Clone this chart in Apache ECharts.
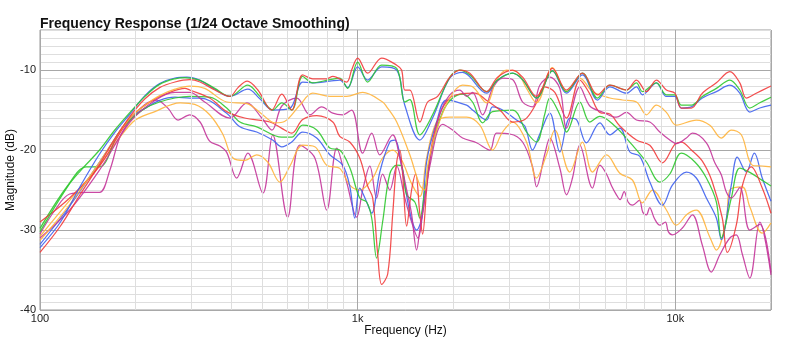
<!DOCTYPE html>
<html>
<head>
<meta charset="utf-8">
<script src="https://cdn.jsdelivr.net/npm/echarts@6/dist/echarts.min.js"></script>
<style>
  html, body { margin: 0; padding: 0; background: #ffffff; }
  #chart { width: 800px; height: 344px; }
</style>
</head>
<body>
<div id="chart"></div>
<script>
// Chart text
const chartTitle = 'Frequency Response (1/24 Octave Smoothing)';
const xAxisName = 'Frequency (Hz)';
const yAxisName = 'Magnitude (dB)';
const xTickLabels = { 100: '100', 1000: '1k', 10000: '10k' };
const yMajorStep = 10;

// Measured responses: [frequency Hz, magnitude dB]
const red1 = [[100,-32.8],[116,-29.5],[134,-25.5],[154,-21.8],[172,-18.6],[192,-15.8],[214,-13.6],[238,-12.2],[266,-11.5],[296,-11.2],[319,-11.5],[355,-12.5],[396,-13.3],[420,-12.2],[449,-11.4],[485,-12.5],[536,-15],[577,-13],[620,-15],[671,-10.6],[722,-11.1],[799,-11.1],[835,-10.8],[923,-11.5],[957,-10],[1000,-8.5],[1075,-10.4],[1190,-8.5],[1327,-9.4],[1375,-10],[1407,-12.5],[1459,-12.5],[1569,-16.5],[1660,-14],[1785,-13.3],[1950,-10.9],[2097,-10],[2254,-10.4],[2545,-12.7],[2756,-10.9],[3073,-10],[3304,-10.9],[3655,-13.3],[4104,-9.8],[4542,-12.5],[5100,-10.4],[5686,-13.1],[6219,-11.9],[7015,-12.5],[7542,-11.25],[8108,-12.7],[8716,-11.25],[9370,-12.5],[9961,-12.9],[10440,-14.75],[11230,-14.75],[12160,-12.9],[13460,-11.6],[14840,-10.2],[15950,-11.6],[16720,-13.5],[17970,-12.9],[20000,-12]];

const green1 = [[100,-30.2],[122,-24.6],[134,-22.6],[154,-20],[172,-17.5],[192,-15.3],[214,-13.3],[238,-11.8],[266,-11.1],[286,-10.95],[319,-11.3],[355,-12.3],[396,-13.3],[451,-11.9],[492,-13.3],[540,-15],[577,-14.1],[620,-15],[671,-10.8],[722,-11.6],[817,-11.2],[878,-11],[930,-12.3],[1000,-9],[1075,-11.5],[1190,-9.4],[1327,-9.8],[1407,-14],[1459,-13.7],[1569,-18.1],[1721,-15.6],[1950,-10.9],[2097,-10],[2254,-10.6],[2545,-12.7],[2756,-11.25],[3073,-10.4],[3304,-11.2],[3655,-13.5],[4104,-10.1],[4542,-12.7],[5100,-10.4],[5686,-13.5],[6219,-11.9],[7015,-12.5],[7542,-11.6],[7876,-12.7],[8716,-11.6],[9370,-13.1],[9961,-13.1],[10440,-14.4],[11230,-14.4],[12160,-13.3],[13460,-12.3],[14840,-11.25],[15950,-12.5],[17150,-14.75],[18440,-14.1],[20000,-13.4]];

const blue1 = [[100,-32.2],[116,-29],[134,-24.5],[154,-20.5],[172,-17.8],[192,-15.5],[214,-13.2],[238,-11.7],[266,-11],[290,-10.9],[319,-11.3],[355,-12.4],[396,-13.3],[451,-12.4],[492,-13.6],[540,-15],[611,-14.8],[671,-11.5],[722,-11.6],[817,-11.4],[878,-11.25],[930,-12.2],[1000,-9.6],[1075,-11.25],[1190,-9.6],[1327,-10],[1407,-14.4],[1569,-18.75],[1721,-16],[1950,-11],[2139,-10.3],[2545,-12.9],[2756,-11.25],[3073,-10.4],[3304,-11.2],[3655,-13.5],[4104,-10.1],[4542,-12.9],[5100,-10.6],[5686,-13.75],[6219,-12.1],[7015,-12.9],[7542,-12.1],[7876,-13.1],[8716,-11.6],[9370,-13.3],[9961,-13.3],[10440,-14.75],[11230,-14.6],[12160,-13.5],[13460,-12.7],[14840,-11.9],[15950,-12.9],[17150,-15.25],[18440,-14.75],[20000,-14.4]];

const orange1 = [[100,-31.3],[116,-28.3],[134,-25],[154,-21.5],[172,-18.6],[192,-16],[214,-14.4],[238,-13.2],[266,-12.4],[296,-12],[330,-12.3],[387,-14],[448,-14.2],[499,-15.5],[549,-16.6],[590,-16.4],[657,-14.4],[722,-12.9],[817,-13.3],[923,-13.3],[1037,-12.8],[1198,-14],[1234,-14.6],[1327,-16.5],[1459,-20.6],[1569,-24.4],[1627,-25],[1660,-22],[1772,-17.5],[1950,-13.5],[2139,-11.9],[2299,-12.1],[2545,-14.1],[2736,-11.25],[2942,-10],[3162,-10.2],[3400,-12.3],[3655,-14.1],[4104,-9.7],[4542,-12.7],[5003,-11],[5483,-12.7],[6219,-13.5],[6814,-13.75],[7542,-14],[8108,-15.6],[8716,-14.4],[9370,-15.3],[10070,-16.9],[11640,-16.25],[12840,-16.9],[13950,-18.5],[15000,-17.5],[16130,-18.1],[17470,-21.9],[18770,-22],[20000,-22.1]];

const magenta1 = [[100,-31],[124,-27.5],[154,-22.5],[192,-16.5],[230,-13.8],[266,-12.8],[296,-12.8],[330,-14],[396,-16],[448,-14.1],[499,-16],[537,-17.5],[577,-14.5],[643,-13.5],[707,-15.6],[770,-14.6],[835,-15.4],[897,-15.6],[957,-15],[1037,-20.4],[1107,-17.9],[1174,-20.6],[1289,-18.1],[1357,-21],[1426,-25],[1478,-28],[1533,-32.5],[1569,-30],[1627,-26],[1709,-20],[1814,-15.5],[1950,-13.1],[2097,-12.5],[2202,-13.3],[2299,-12.8],[2473,-15.6],[2658,-12.3],[2858,-11],[3073,-11.2],[3304,-14],[3551,-14.6],[3744,-11.9],[4025,-10.9],[4328,-12.3],[4542,-17.25],[5003,-12.1],[5379,-14.5],[5895,-15.25],[6524,-15.9],[7015,-15.3],[7542,-16.25],[8310,-16.5],[8935,-17.75],[9606,-18.75],[10070,-19.2],[10830,-18.5],[11310,-17.9],[12520,-19.1],[13310,-21.6],[13950,-23.1],[14470,-25.25],[15000,-26],[15950,-24.7],[17150,-30],[18440,-29.3],[20000,-35.3]];

const red2 = [[100,-29],[124,-26],[154,-22],[192,-16],[222,-14],[256,-12.8],[286,-12.3],[296,-12.5],[342,-13.5],[387,-15.2],[441,-16],[529,-16.5],[577,-17.3],[620,-17.9],[671,-16.2],[743,-15.7],[835,-16.5],[878,-18.3],[944,-19],[1015,-21],[1075,-24.5],[1115,-26],[1156,-33],[1190,-36.8],[1243,-35.5],[1289,-28],[1327,-21.5],[1357,-20],[1385,-23],[1426,-29.5],[1478,-25],[1522,-23],[1569,-28],[1601,-30.5],[1648,-25],[1709,-19.5],[1814,-15.5],[1950,-13.5],[2097,-13],[2337,-12.9],[2545,-13.8],[2802,-15],[3073,-16.5],[3358,-16.2],[3611,-14.5],[3882,-12.1],[4174,-12.8],[4542,-16],[5003,-11.25],[5379,-13],[5784,-15.3],[6219,-15.5],[6686,-17],[7542,-18.75],[8310,-19.4],[9103,-21.6],[9961,-19.3],[10440,-19],[11230,-20],[12160,-21.4],[13070,-24],[14050,-28.5],[14570,-32.8],[15550,-29.4],[16240,-24.5],[17340,-22.1],[18770,-24.75],[20000,-27.9]];

const green2 = [[100,-29.8],[122,-24.5],[140,-22.1],[154,-22.1],[176,-18],[192,-16.3],[214,-14.8],[238,-14],[266,-13.5],[296,-13.3],[342,-13.4],[387,-14.75],[426,-16.5],[481,-17.1],[577,-18.4],[620,-18.4],[671,-16.9],[743,-17.5],[817,-19.75],[878,-20],[944,-22.2],[1015,-26],[1067,-26.5],[1107,-28.5],[1147,-33.5],[1198,-29],[1262,-23],[1327,-21.9],[1375,-22],[1426,-25.6],[1513,-26.5],[1569,-28.5],[1627,-25],[1721,-19.4],[1851,-15.25],[1990,-13.5],[2139,-13],[2299,-14],[2473,-16.6],[2658,-15.2],[3073,-15],[3400,-17.75],[3655,-19],[3882,-15.5],[4025,-13.5],[4328,-15.6],[4542,-17.75],[5003,-14],[5379,-16.5],[5784,-15.8],[6448,-17],[7326,-19.4],[8108,-21.5],[8935,-24],[9606,-23],[10440,-20.4],[11520,-21.5],[12520,-23.5],[13460,-26.5],[13950,-31],[15000,-26],[15950,-22.25],[17150,-22.8],[18770,-23.8],[20000,-24.5]];

const blue2 = [[100,-31.8],[124,-27],[154,-21.5],[192,-16],[214,-14.8],[238,-13.8],[266,-13.4],[296,-13.5],[319,-13.5],[387,-15.4],[426,-17.1],[481,-17.75],[540,-18.75],[577,-19.6],[620,-19],[671,-17.75],[743,-18.5],[817,-20.6],[897,-21.9],[944,-24.5],[979,-28.5],[1015,-24.75],[1067,-26.5],[1107,-27.9],[1174,-22.75],[1262,-19],[1309,-18.75],[1375,-22],[1459,-27.75],[1533,-30],[1590,-28.5],[1648,-21.5],[1772,-16.5],[1905,-13.75],[2202,-14.4],[2299,-15],[2545,-16.25],[2658,-14.6],[2858,-15],[3162,-16.25],[3358,-17],[3551,-20],[3744,-18],[4025,-15.4],[4328,-20.25],[4653,-16],[4884,-16.2],[5250,-19.1],[5784,-16.6],[6219,-18.1],[6686,-17.25],[7189,-20.25],[7729,-20.8],[8310,-24],[9103,-26.9],[9786,-24.4],[10830,-22.75],[11640,-23.5],[12520,-26],[13460,-28.5],[13950,-31.2],[15000,-24.4],[15670,-20.9],[16720,-22.75],[17720,-20.4],[18770,-23.5],[20000,-26.4]];

const orange2 = [[100,-30.8],[124,-26.3],[154,-21.9],[196,-16.5],[230,-15.2],[276,-14.1],[307,-14.3],[342,-15.6],[376,-18],[405,-21],[441,-21.3],[481,-20.6],[521,-21.5],[569,-24],[612,-22],[671,-19.4],[733,-19.6],[799,-21.9],[878,-22.3],[944,-24.4],[1015,-25],[1115,-23.5],[1198,-21],[1289,-20],[1375,-21.25],[1478,-24.2],[1569,-25.8],[1648,-21],[1772,-16.5],[1950,-15.9],[2202,-15.9],[2424,-16.9],[2658,-20],[2858,-17.75],[3073,-16.5],[3400,-19],[3655,-23.5],[3929,-20.6],[4174,-17.5],[4653,-22.75],[5100,-19],[5483,-22.75],[6068,-20.6],[6686,-22.9],[7326,-23.75],[7876,-26.6],[8467,-25],[9370,-27.5],[10070,-29.4],[10910,-28],[11640,-27.5],[12840,-30.9],[13460,-32.5],[14470,-28.75],[14840,-25],[16240,-24.6],[17150,-27.1],[18770,-30.4],[20000,-29.1]];

const magenta2 = [[100,-30.5],[111.5,-27.5],[124,-25.5],[140,-25.3],[154,-25.3],[166,-22.5],[178,-18.5],[192,-16.3],[214,-14.3],[233,-13.75],[253,-14.8],[272,-16.25],[296,-15.6],[319,-16.5],[342,-18.9],[368,-19.5],[387,-20.3],[416,-23.5],[451,-20.4],[503,-25.4],[540,-18.1],[602,-28.4],[657,-19.4],[733,-21],[799,-27.5],[859,-19.75],[923,-24],[993,-28.4],[1037,-25],[1092,-22],[1147,-26],[1198,-23],[1262,-25],[1327,-22],[1407,-26],[1478,-29],[1548,-31],[1601,-28],[1687,-22],[1851,-16.8],[1990,-17.5],[2139,-18.5],[2367,-19.1],[2606,-20],[2736,-17.9],[3012,-18],[3304,-19],[3551,-22.1],[3655,-24.6],[3882,-20.5],[4025,-18.5],[4328,-22.25],[4542,-25.6],[4744,-23.5],[5003,-19.4],[5483,-24.75],[5784,-21.9],[6068,-23],[6300,-24.5],[6524,-25.6],[6700,-26.2],[6900,-25.2],[7100,-26.5],[7326,-26.9],[7700,-26.3],[7900,-27.8],[8108,-28.1],[8300,-27.2],[8600,-28.6],[8935,-29.4],[9300,-29],[9500,-30.2],[9786,-30.6],[10520,-29.75],[11310,-28.1],[12160,-31.9],[12980,-35.25],[13800,-33.1],[14840,-31],[15550,-30.6],[16240,-33],[17150,-36],[18440,-29],[20000,-35.6]];

// Drawing order and colours of the traces
const traces = [
  { name: 'Magenta B', color: '#c4359a', data: magenta2 },
  { name: 'Orange B',  color: '#ffb43c', data: orange2 },
  { name: 'Blue B',    color: '#3f62ee', data: blue2 },
  { name: 'Green B',   color: '#2fc82f', data: green2 },
  { name: 'Red B',     color: '#f23c3c', data: red2 },
  { name: 'Magenta A', color: '#c4359a', data: magenta1 },
  { name: 'Orange A',  color: '#ffb43c', data: orange1 },
  { name: 'Blue A',    color: '#3f62ee', data: blue1 },
  { name: 'Green A',   color: '#2fc82f', data: green1 },
  { name: 'Red A',     color: '#f23c3c', data: red1 }
];

// Minor frequency grid: 2..9 times each decade inside the axis range
const freqMin = 100, freqMax = 20000;
const minorFreqs = [];
for (let d = 100; d < freqMax; d *= 10) {
  for (let k = 2; k <= 9; k++) {
    if (d * k < freqMax) minorFreqs.push(d * k);
  }
}

// Horizontal grid colours: every 10 dB darker, 1 dB steps light
const ySplitColors = ['#a8a8a8'].concat(new Array(yMajorStep - 1).fill('#dedede'));

const fontFamily = '"Liberation Sans", Arial, Helvetica, sans-serif';

const chart = echarts.init(document.getElementById('chart'), null, { renderer: 'canvas' });

const series = [{
  type: 'line',
  data: [],
  z: 1,
  silent: true,
  markLine: {
    silent: true,
    symbol: ['none', 'none'],
    label: { show: false },
    lineStyle: { color: '#dedede', width: 1, type: 'solid' },
    data: minorFreqs.map(f => ({ xAxis: f }))
  }
}].concat(traces.map(t => ({
  name: t.name,
  type: 'line',
  data: t.data,
  showSymbol: false,
  smooth: 0.35,
  z: 3,
  lineStyle: { color: t.color, width: 1.25, opacity: 0.9 },
  itemStyle: { color: t.color },
  animation: false
})));

chart.setOption({
  animation: false,
  backgroundColor: '#ffffff',
  title: {
    text: chartTitle,
    left: 35,
    top: 12,
    textStyle: { fontFamily, fontSize: 14, fontWeight: 'bold', color: '#111' }
  },
  grid: {
    left: 40, top: 30, width: 731, height: 280,
    containLabel: false,
    outerBoundsMode: 'none',
    show: true, borderColor: '#9a9a9a', borderWidth: 1, backgroundColor: '#ffffff'
  },
  xAxis: {
    type: 'log',
    logBase: 10,
    min: freqMin,
    max: freqMax,
    name: xAxisName,
    nameLocation: 'middle',
    nameGap: 15,
    nameMoveOverlap: false,
    nameTextStyle: { fontFamily, fontSize: 12, color: '#111' },
    axisLine: { show: false },
    axisTick: { show: false },
    axisLabel: {
      fontFamily, fontSize: 11, color: '#222', margin: 3,
      formatter: v => xTickLabels[Math.round(v)] || ''
    },
    splitLine: { show: true, lineStyle: { color: '#a8a8a8', width: 1 } }
  },
  yAxis: {
    type: 'value',
    min: -40,
    max: -5,
    interval: 1,
    name: yAxisName,
    nameLocation: 'middle',
    nameGap: 23,
    nameMoveOverlap: false,
    nameTextStyle: { fontFamily, fontSize: 12, color: '#111' },
    axisLine: { show: false },
    axisTick: { show: false },
    axisLabel: {
      interval: 0,
      fontFamily, fontSize: 11, color: '#222', margin: 4,
      formatter: v => (Math.round(v) % yMajorStep === 0 ? String(Math.round(v)) : '')
    },
    splitLine: { show: true, lineStyle: { color: ySplitColors, width: 1 } }
  },
  series
});
</script>
</body>
</html>
